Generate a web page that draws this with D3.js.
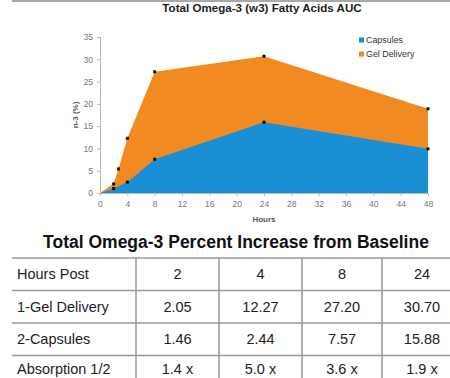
<!DOCTYPE html>
<html>
<head>
<meta charset="utf-8">
<script src="https://cdn.jsdelivr.net/npm/d3@7"></script>
<style>
  body { margin: 0; background: #fff; }
  svg { display: block; }
</style>
</head>
<body>
<svg id="svg_main"></svg>
<script>
// chart series
const gelHours = [0, 2, 2.7, 4, 8, 24, 48];
const gelValues = [0, 2.05, 5.4, 12.27, 27.2, 30.7, 18.9];
const capHours = [0, 2, 4, 8, 24, 48];
const capValues = [0, 1.0, 2.44, 7.57, 15.88, 9.9];
const seriesNames = ['Capsules', 'Gel Delivery'];
const xTicks = d3.range(0, 49, 4);
const yTicks = d3.range(0, 36, 5);

// table below the chart
const tableHead = ['Hours Post', '2', '4', '8', '24'];
const tableRows = [
    ['1-Gel Delivery', '2.05', '12.27', '27.20', '30.70'],
    ['2-Capsules', '1.46', '2.44', '7.57', '15.88'],
    ['Absorption 1/2', '1.4 x', '5.0 x', '3.6 x', '1.9 x']
];

const width = 450, height = 378;
const blue = '#1a8fd5', orange = '#f28a22';
const font = 'Liberation Sans, Arial, sans-serif';
const svg = d3.select('#svg_main').attr('width', width).attr('height', height);

// top grey rule
svg.append('line').attr('x1', 12).attr('x2', width).attr('y1', 1).attr('y2', 1)
    .attr('stroke', '#a8a8a8').attr('stroke-width', 2);

svg.append('text').attr('x', 262).attr('y', 12).attr('text-anchor', 'middle')
    .attr('font-family', font).attr('font-weight', 'bold')
    .attr('font-size', 11.6).attr('fill', '#222').text('Total Omega-3 (w3) Fatty Acids AUC');

const x = d3.scaleLinear().domain([0, 48]).range([100, 428]);
const y = d3.scaleLinear().domain([0, 35]).range([193, 37]);

const area = d3.area().x(d => x(d[0])).y0(y(0)).y1(d => y(d[1]));
const gel = gelHours.map((h, i) => [h, gelValues[i]]);
const cap = capHours.map((h, i) => [h, capValues[i]]);

svg.append('path').datum(gel).attr('d', area).attr('fill', orange);
svg.append('path').datum(cap).attr('d', area).attr('fill', blue);

// axes
const yAxis = svg.append('g').attr('transform', `translate(${x(0)},0)`)
    .call(d3.axisLeft(y).tickValues(yTicks).tickSize(3).tickPadding(4));
const xAxis = svg.append('g').attr('transform', `translate(0,${y(0)})`)
    .call(d3.axisBottom(x).tickValues(xTicks).tickSize(3).tickPadding(5));
[yAxis, xAxis].forEach(a => {
    a.select('.domain').attr('stroke', '#b8b8b8');
    a.selectAll('.tick line').attr('stroke', '#b8b8b8');
    a.selectAll('.tick text').attr('fill', '#777').attr('font-size', 8.6)
        .attr('font-family', font);
});

// markers
const marks = gel.concat(cap).filter(d => d[0] > 0);
svg.append('g').selectAll('rect').data(marks).join('rect')
    .attr('x', d => x(d[0]) - 1.5).attr('y', d => y(d[1]) - 1.5)
    .attr('width', 3).attr('height', 3).attr('fill', '#111');

svg.append('text').attr('x', 264).attr('y', 222).attr('text-anchor', 'middle')
    .attr('font-family', font).attr('font-weight', 'bold')
    .attr('font-size', 8).attr('fill', '#555').text('Hours');
svg.append('text').attr('transform', 'translate(78,115) rotate(-90)').attr('text-anchor', 'middle')
    .attr('font-family', font).attr('font-weight', 'bold')
    .attr('font-size', 8).attr('fill', '#555').text('n-3 (%)');

// legend
const legend = svg.append('g').selectAll('g').data(seriesNames).join('g')
    .attr('transform', (d, i) => `translate(359,${40 + i * 14})`);
legend.append('rect').attr('x', 0).attr('y', -2.5).attr('width', 5).attr('height', 5)
    .attr('fill', (d, i) => i ? orange : blue);
legend.append('text').attr('x', 7).attr('y', 3.2)
    .attr('font-family', font).attr('font-size', 8.9)
    .attr('fill', '#333').text(d => d);

// table
svg.append('text').attr('x', 236).attr('y', 248).attr('text-anchor', 'middle')
    .attr('font-family', font).attr('font-weight', 'bold')
    .attr('font-size', 17.5).attr('fill', '#111').text('Total Omega-3 Percent Increase from Baseline');

const colEdges = [12, 136, 219, 302, 382, 462];
const rowTop = 258, rowH = 32.5;
const allRows = [tableHead].concat(tableRows);
const tbl = svg.append('g');
allRows.forEach((r, i) => {
    tbl.append('line').attr('x1', 12).attr('x2', width)
        .attr('y1', rowTop + i * rowH).attr('y2', rowTop + i * rowH)
        .attr('stroke', '#999').attr('stroke-width', 1.5);
});
colEdges.slice(1, 5).forEach(c => {
    tbl.append('line').attr('x1', c).attr('x2', c).attr('y1', rowTop).attr('y2', height)
        .attr('stroke', '#999').attr('stroke-width', 1.5);
});
allRows.forEach((r, i) => {
    const base = Math.min(rowTop + i * rowH + rowH / 2 + 5, 373.5);
    tbl.selectAll(null).data(r).join('text')
        .attr('x', (d, j) => j === 0 ? 17 : (colEdges[j] + colEdges[j + 1]) / 2)
        .attr('y', base)
        .attr('text-anchor', (d, j) => j === 0 ? 'start' : 'middle')
        .attr('font-family', font).attr('font-size', 14.5)
        .attr('fill', '#222').text(d => d);
});
</script>
</body>
</html>
